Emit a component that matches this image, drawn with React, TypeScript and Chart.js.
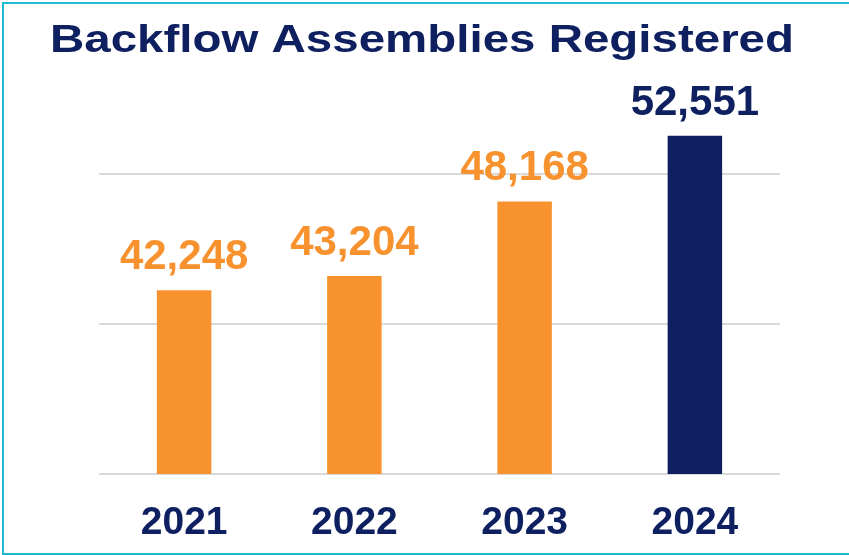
import React, { useEffect, useRef } from "react";
import { Chart, registerables } from "chart.js";

Chart.register(...registerables);

const TITLE = "Backflow Assemblies Registered";
const years = ["2021", "2022", "2023", "2024"];
const assemblies = [42248, 43204, 48168, 52551];
const gridValues = [30000, 40000, 50000];
const barColors = ["#F7922F", "#F7922F", "#F7922F", "#0E2060"];
const labelColors = ["#F7922F", "#F7922F", "#F7922F", "#0E2060"];

const NAVY = "#0E2060";
const FONT = "'Liberation Sans', Arial, sans-serif";

const titlePlugin = {
  id: "stretchedTitle",
  afterDraw(chart: any) {
    const ctx = chart.ctx;
    ctx.save();
    ctx.font = `bold 39px ${FONT}`;
    ctx.fillStyle = NAVY;
    ctx.textAlign = "left";
    ctx.textBaseline = "alphabetic";
    const w = ctx.measureText(TITLE).width;
    const targetW = 744;
    const sx = targetW / w;
    ctx.translate(50, 52);
    ctx.scale(sx, 1);
    ctx.fillText(TITLE, 0, 0);
    ctx.restore();
  },
};

const valueLabels = {
  id: "valueLabels",
  afterDatasetsDraw(chart: any) {
    const ctx = chart.ctx;
    const meta = chart.getDatasetMeta(0);
    ctx.save();
    ctx.font = `bold 42px ${FONT}`;
    ctx.textAlign = "center";
    ctx.textBaseline = "alphabetic";
    meta.data.forEach((bar: any, i: number) => {
      ctx.fillStyle = labelColors[i];
      ctx.fillText(assemblies[i].toLocaleString("en-US"), bar.x, bar.y - 21);
    });
    ctx.restore();
  },
};

export default function App() {
  const ref = useRef<HTMLCanvasElement | null>(null);

  useEffect(() => {
    if (!ref.current) return;
    const chart = new Chart(ref.current, {
      type: "bar",
      data: {
        labels: years,
        datasets: [
          {
            data: assemblies,
            backgroundColor: barColors,
            borderWidth: 0,
            barPercentage: 0.32,
            categoryPercentage: 1,
          },
        ],
      },
      options: {
        responsive: false,
        animation: false,
        devicePixelRatio: 1,
        layout: { padding: { left: 99, right: 69, top: 99, bottom: 0 } },
        plugins: {
          legend: { display: false },
          tooltip: { enabled: false },
          title: { display: false },
        },
        scales: {
          x: {
            grid: { display: false, drawTicks: false },
            border: { display: false },
            ticks: {
              color: NAVY,
              font: { family: FONT, size: 39, weight: "bold", lineHeight: 1.2 },
              padding: 26,
              maxRotation: 0,
            },
            afterFit: (scale: any) => {
              scale.height = 81;
            },
          },
          y: {
            min: 30000,
            max: 55000,
            ticks: { display: false },
            afterBuildTicks: (scale: any) => {
              scale.ticks = gridValues.map((v) => ({ value: v }));
            },
            border: { display: false },
            grid: {
              drawTicks: false,
              lineWidth: 2,
              color: "#D9D9D9",
            },
          },
        },
      },
      plugins: [valueLabels, titlePlugin],
    });
    return () => chart.destroy();
  }, []);

  return (
    <div
      style={{
        position: "fixed",
        left: 0,
        top: 0,
        width: 849,
        height: 555,
        overflow: "hidden",
        background: "#ffffff",
      }}
    >
      <canvas ref={ref} width={849} height={555} style={{ display: "block" }} />
      <div
        style={{
          position: "absolute",
          left: 2,
          top: 2,
          width: 870,
          height: 549,
          border: "2px solid #1BBCD2",
          pointerEvents: "none",
        }}
      />
    </div>
  );
}
